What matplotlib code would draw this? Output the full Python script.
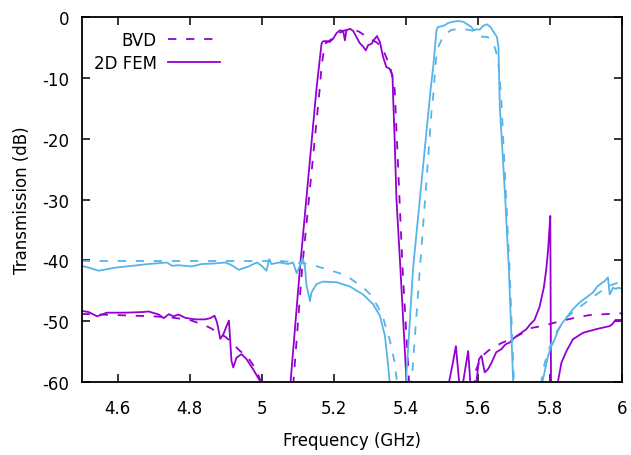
import matplotlib
matplotlib.use("Agg")
import matplotlib.pyplot as plt
import matplotlib.ticker as mticker

# ---- data (frequency in GHz, transmission in dB) ----
fem1_f = [4.500, 4.520, 4.543, 4.570, 4.620, 4.668, 4.686, 4.714, 4.728, 4.742,
          4.755, 4.769, 4.788, 4.815, 4.843, 4.857, 4.869, 4.876, 4.885, 4.894,
          4.901, 4.909, 4.916, 4.921, 4.930, 4.944, 4.958, 4.976, 4.995, 5.005,
          5.040, 5.075, 5.080, 5.106, 5.152, 5.166, 5.170, 5.180, 5.189, 5.198,
          5.208, 5.217, 5.226, 5.231, 5.235, 5.245, 5.254, 5.263, 5.272, 5.281,
          5.289, 5.295, 5.305, 5.314, 5.320, 5.328, 5.337, 5.346, 5.355, 5.363,
          5.365, 5.369, 5.374, 5.385, 5.402, 5.406, 5.460, 5.516, 5.520, 5.530,
          5.539, 5.548, 5.553, 5.557, 5.559, 5.573, 5.579, 5.583, 5.593, 5.596,
          5.603, 5.610, 5.619, 5.628, 5.638, 5.651, 5.665, 5.677, 5.688, 5.702,
          5.716, 5.735, 5.744, 5.757, 5.771, 5.783, 5.790, 5.795, 5.799, 5.801,
          5.803, 5.806, 5.815, 5.822, 5.832, 5.846, 5.864, 5.892, 5.929, 5.966,
          5.973, 5.982, 6.000]
fem1_db = [-48.3, -48.5, -49.2, -48.6, -48.6, -48.5, -48.4, -48.9, -49.5, -48.85,
           -49.2, -48.9, -49.45, -49.7, -49.7, -49.5, -49.1, -50.2, -52.9, -52.1,
           -51.0, -49.9, -56.5, -57.6, -56.0, -55.4, -56.25, -57.9, -59.8, -62.0,
           -75.0, -62.0, -60.0, -41.4, -11.8, -4.4, -4.0, -3.95, -4.1, -3.57,
           -2.63, -2.19, -2.3, -3.83, -2.19, -1.92, -2.3, -3.29, -4.28, -4.82,
           -5.48, -4.65, -4.39, -3.57, -3.13, -4.11, -6.58, -8.22, -8.5, -9.6,
           -13.5, -20.1, -29.9, -41.4, -60.0, -64.0, -75.0, -64.0, -60.0, -57.0,
           -54.1, -60.0, -63.0, -63.0, -60.0, -54.9, -60.0, -63.0, -63.0, -60.0,
           -56.25, -55.7, -58.4, -57.9, -56.8, -55.1, -54.6, -53.8, -53.5, -52.7,
           -52.1, -51.3, -50.6, -49.8, -47.7, -44.5, -41.4, -38.2, -34.5, -32.7,
           -60.0, -66.0, -66.0, -60.0, -56.8, -54.9, -52.96, -51.9, -51.3, -50.8,
           -50.5, -49.8, -49.8]

bvd1_f = [4.50, 4.60, 4.70, 4.75, 4.80, 4.84, 4.86, 4.90, 4.94, 4.96,
          4.985, 5.005, 5.040, 5.083, 5.088, 5.112, 5.161, 5.166, 5.175, 5.190,
          5.210, 5.230, 5.250, 5.270, 5.285, 5.300, 5.320, 5.335, 5.345, 5.358,
          5.369, 5.391, 5.409, 5.413, 5.500, 5.585, 5.595, 5.610, 5.630, 5.650,
          5.665, 5.690, 5.720, 5.750, 5.785, 5.822, 5.850, 5.880, 5.910, 5.950,
          6.000]
bvd1_db = [-48.8, -49.0, -49.2, -49.4, -49.8, -50.6, -51.2, -52.6, -54.9, -55.8,
           -58.0, -61.0, -75.0, -62.0, -60.0, -41.4, -11.8, -8.2, -4.4, -3.8,
           -2.8, -2.2, -2.0, -2.4, -3.0, -3.6, -4.2, -5.2, -6.5, -8.5,
           -11.8, -41.4, -60.0, -64.0, -75.0, -63.0, -58.0, -55.8, -54.8, -54.1,
           -53.6, -53.0, -52.1, -51.1, -50.7, -50.1, -49.7, -49.3, -49.0, -48.85,
           -48.7]

fem2_f = [4.501, 4.520, 4.547, 4.593, 4.640, 4.686, 4.737, 4.751, 4.769, 4.788,
          4.806, 4.834, 4.871, 4.899, 4.917, 4.936, 4.964, 4.977, 4.987, 5.000,
          5.013, 5.021, 5.027, 5.050, 5.073, 5.087, 5.097, 5.106, 5.113, 5.120,
          5.124, 5.134, 5.138, 5.152, 5.170, 5.208, 5.245, 5.281, 5.309, 5.328,
          5.342, 5.351, 5.355, 5.358, 5.380, 5.397, 5.400, 5.408, 5.420, 5.439,
          5.464, 5.469, 5.476, 5.485, 5.489, 5.499, 5.508, 5.517, 5.531, 5.545,
          5.559, 5.568, 5.582, 5.589, 5.596, 5.605, 5.614, 5.625, 5.635, 5.644,
          5.653, 5.657, 5.661, 5.676, 5.686, 5.698, 5.701, 5.740, 5.776, 5.779,
          5.795, 5.804, 5.813, 5.822, 5.832, 5.846, 5.864, 5.883, 5.901, 5.919,
          5.933, 5.952, 5.961, 5.966, 5.975, 5.983, 5.989, 5.998]
fem2_db = [-40.9, -41.2, -41.7, -41.2, -40.9, -40.6, -40.35, -40.9, -40.8, -40.9,
           -41.0, -40.6, -40.5, -40.35, -40.8, -41.55, -41.0, -40.6, -40.35, -40.9,
           -41.7, -39.8, -40.6, -40.35, -40.6, -40.35, -42.1, -40.9, -39.6, -41.0,
           -44.0, -46.7, -45.3, -43.9, -43.5, -43.6, -44.3, -45.6, -47.2, -49.1,
           -52.4, -57.35, -60.0, -63.0, -75.0, -63.0, -60.0, -53.0, -41.4, -29.9,
           -14.8, -11.8, -8.2, -2.19, -1.64, -1.52, -1.36, -0.99, -0.77, -0.66,
           -0.77, -1.1, -1.64, -2.19, -2.02, -2.09, -1.48, -1.2, -1.64, -2.47,
           -3.29, -4.93, -14.8, -29.9, -41.4, -60.0, -64.0, -75.0, -64.0, -60.0,
           -55.7, -54.1, -53.0, -51.6, -50.5, -49.4, -48.0, -46.9, -46.1, -45.3,
           -44.2, -43.4, -42.8, -45.6, -44.5, -44.7, -44.5, -44.6]

bvd2_f = [4.500, 4.800, 5.050, 5.090, 5.130, 5.166, 5.194, 5.226, 5.249, 5.286,
          5.305, 5.323, 5.337, 5.346, 5.355, 5.363, 5.369, 5.374, 5.378, 5.395,
          5.412, 5.416, 5.439, 5.457, 5.471, 5.478, 5.481, 5.487, 5.494, 5.503,
          5.515, 5.527, 5.550, 5.568, 5.587, 5.605, 5.628, 5.647, 5.656, 5.665,
          5.674, 5.688, 5.700, 5.703, 5.740, 5.772, 5.776, 5.785, 5.800, 5.820,
          5.850, 5.880, 5.920, 5.960, 6.000]
bvd2_db = [-40.1, -40.1, -40.1, -40.3, -40.6, -41.2, -41.7, -42.3, -43.1, -44.7,
           -45.8, -47.7, -49.4, -51.3, -53.0, -55.1, -56.8, -59.3, -62.0, -70.0,
           -62.0, -60.0, -41.4, -27.2, -15.7, -11.8, -8.6, -5.3, -4.4, -3.3,
           -2.6, -2.1, -2.0, -2.05, -2.25, -3.2, -3.3, -5.0, -6.9, -13.5,
           -24.5, -41.4, -60.0, -64.0, -75.0, -62.0, -60.0, -57.0, -54.2, -51.6,
           -49.2, -47.8, -46.0, -44.3, -43.4]

x_ticks = [4.6, 4.8, 5.0, 5.2, 5.4, 5.6, 5.8, 6.0]
x_labels = ["4.6", "4.8", "5", "5.2", "5.4", "5.6", "5.8", "6"]
y_ticks = [0, -10, -20, -30, -40, -50, -60]

PURPLE = "#9400d3"
BLUE = "#56b4e9"

plt.rcParams["font.family"] = ["DejaVu Sans"]
plt.rcParams["axes.unicode_minus"] = False
plt.rcParams["lines.scale_dashes"] = False

fig = plt.figure(figsize=(6.31, 4.56), dpi=100)
ax = fig.add_axes([0.1293, 0.160, 0.8564, 0.8005])

dash = (0, (6, 7))
ax.plot(bvd1_f, bvd1_db, color=PURPLE, lw=1.3, ls=dash, label="BVD")
ax.plot(fem1_f, fem1_db, color=PURPLE, lw=1.3, label="2D FEM")
ax.plot(bvd2_f, bvd2_db, color=BLUE, lw=1.3, ls=dash)
ax.plot(fem2_f, fem2_db, color=BLUE, lw=1.3)

ax.set_xlim(4.5, 6.0)
ax.set_ylim(-60, 0)
ax.xaxis.set_major_locator(mticker.FixedLocator(x_ticks))
ax.xaxis.set_major_formatter(mticker.FixedFormatter(x_labels))
ax.yaxis.set_major_locator(mticker.FixedLocator(y_ticks))
ax.tick_params(direction="in", top=True, right=True, length=6, width=1.1,
               labelsize=12)
ax.tick_params(axis="x", pad=12)
ax.tick_params(axis="y", pad=9)
for s in ax.spines.values():
    s.set_linewidth(1.3)

ax.set_xlabel("Frequency (GHz)", fontsize=12, labelpad=10)
ax.set_ylabel("Transmission (dB)", fontsize=12, labelpad=8)

ax.legend(loc="upper left", bbox_to_anchor=(0.01, 0.98), frameon=False,
          markerfirst=False, fontsize=12, handlelength=3.1, handletextpad=0.7,
          labelspacing=0.3, borderaxespad=0)

fig.savefig("out.png", dpi=100)
